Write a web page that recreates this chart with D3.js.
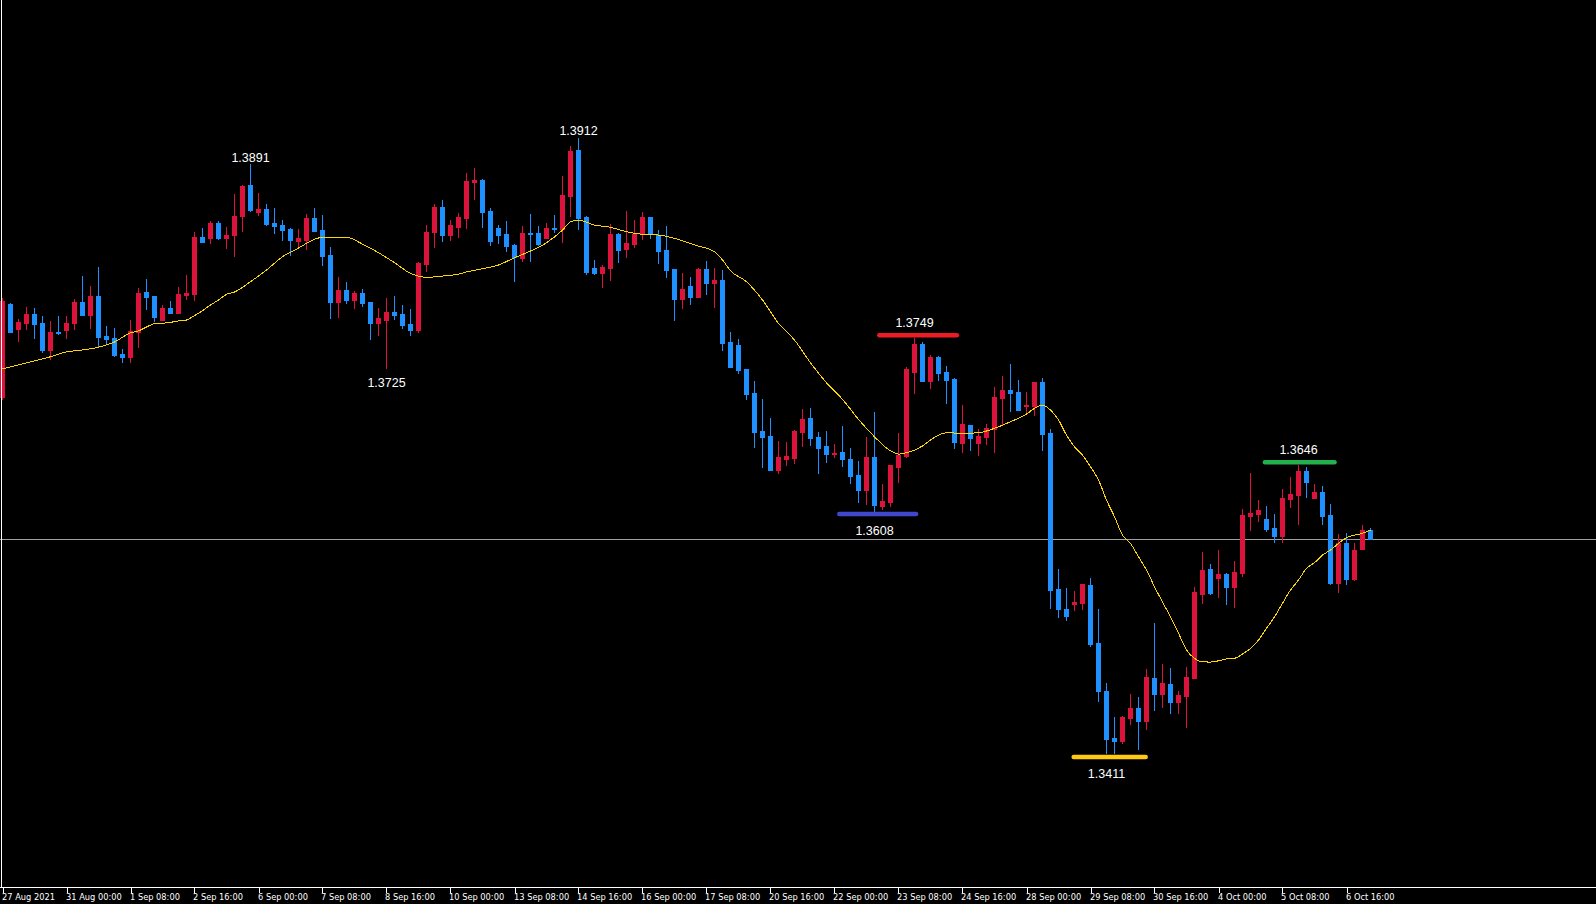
<!DOCTYPE html>
<html><head><meta charset="utf-8">
<script src="https://cdn.jsdelivr.net/npm/d3@7"></script>
<style>html,body{margin:0;padding:0;background:#000;overflow:hidden}svg{display:block}</style>
</head><body>
<script>
// ---- time axis labels (one every 8 bars) ----
const timeLabels = ["27 Aug 2021","31 Aug 00:00","1 Sep 08:00","2 Sep 16:00","6 Sep 00:00","7 Sep 08:00","8 Sep 16:00","10 Sep 00:00","13 Sep 08:00","14 Sep 16:00","16 Sep 00:00","17 Sep 08:00","20 Sep 16:00","22 Sep 00:00","23 Sep 08:00","24 Sep 16:00","28 Sep 00:00","29 Sep 08:00","30 Sep 16:00","4 Oct 00:00","5 Oct 08:00","6 Oct 16:00"];
const barsPerLabel = 8;

// ---- H4 OHLC series ----
const open = [
1.37011,1.37768,1.37565,1.37616,1.37687,1.37614,1.37394,1.37541,1.37557,1.37614,
1.37785,1.37679,1.37833,1.37508,1.37492,1.37361,1.37337,1.37541,1.37866,1.37833,
1.37638,1.37736,1.37696,1.37841,1.37849,1.38314,1.38306,1.38428,1.38306,1.38330,
1.38485,1.38737,1.38518,1.38542,1.38428,1.38411,1.38379,1.38281,1.38289,1.38469,
1.38371,1.38167,1.37785,1.37882,1.37801,1.37858,1.37785,1.37614,1.37638,1.37704,
1.37687,1.37605,1.37557,1.38094,1.38355,1.38558,1.38330,1.38395,1.38469,1.38762,
1.38778,1.38526,1.38387,1.38338,1.38248,1.38143,1.38347,1.38347,1.38306,1.38387,
1.38379,1.38648,1.39022,1.38477,1.38062,1.38021,1.38062,1.38338,1.38216,1.38256,
1.38347,1.38477,1.38330,1.38208,1.38054,1.37809,1.37915,1.37825,1.38054,1.37940,
1.37964,1.37459,1.37434,1.37239,1.37044,1.36734,1.36693,1.36416,1.36506,1.36514,
1.36726,1.36840,1.36685,1.36612,1.36546,1.36563,1.36506,1.36375,1.36254,1.36522,
1.36123,1.36156,1.36441,1.36530,1.37215,1.37442,1.37141,1.37337,1.37215,1.37158,
1.36637,1.36783,1.36637,1.36685,1.36751,1.37003,1.37068,1.37052,1.36938,1.36938,
1.37133,1.36718,1.35448,1.35285,1.35325,1.35334,1.35480,1.35008,1.34617,1.34234,
1.34210,1.34397,1.34479,1.34373,1.34723,1.34592,1.34673,1.34528,1.34576,1.34723,
1.35406,1.35611,1.35537,1.35569,1.35464,1.35578,1.36042,1.36058,1.36018,1.35944,
1.35879,1.36181,1.36213,1.36408,1.36189,1.36238,1.36050,1.35497,1.35822,1.35529,
1.35773,1.35928];
const high = [
1.37817,1.37777,1.37644,1.37744,1.37736,1.37671,1.37630,1.37671,1.37671,1.37809,
1.37996,1.37915,1.38070,1.37589,1.37573,1.37402,1.37638,1.37899,1.37972,1.37833,
1.37760,1.37793,1.37907,1.38004,1.38355,1.38387,1.38444,1.38444,1.38395,1.38664,
1.38737,1.38906,1.38673,1.38582,1.38550,1.38452,1.38387,1.38379,1.38501,1.38550,
1.38493,1.38232,1.37988,1.37948,1.37874,1.37891,1.37785,1.37736,1.37817,1.37833,
1.37760,1.37728,1.38111,1.38411,1.38582,1.38615,1.38452,1.38510,1.38836,1.38876,
1.38787,1.38550,1.38411,1.38444,1.38256,1.38403,1.38501,1.38403,1.38428,1.38493,
1.38811,1.39055,1.39120,1.38485,1.38127,1.38086,1.38419,1.38347,1.38526,1.38452,
1.38518,1.38477,1.38371,1.38403,1.38054,1.38021,1.37988,1.38062,1.38119,1.38062,
1.38045,1.37541,1.37484,1.37239,1.37141,1.36995,1.36840,1.36653,1.36645,1.36742,
1.36914,1.36922,1.36726,1.36734,1.36628,1.36775,1.36596,1.36490,1.36685,1.36889,
1.36302,1.36457,1.36718,1.37255,1.37494,1.37459,1.37353,1.37345,1.37263,1.37166,
1.36946,1.36783,1.36751,1.36791,1.37092,1.37182,1.37279,1.37149,1.37052,1.37133,
1.37166,1.36751,1.35611,1.35456,1.35431,1.35488,1.35537,1.35285,1.34682,1.34405,
1.34413,1.34592,1.34568,1.34796,1.35171,1.34836,1.34804,1.34617,1.34812,1.35464,
1.35749,1.35651,1.35765,1.35578,1.35676,1.36099,1.36392,1.36172,1.36123,1.36058,
1.36262,1.36359,1.36460,1.36441,1.36302,1.36286,1.36139,1.35895,1.35904,1.35822,
1.35968,1.35944];
const low = [
1.36995,1.37541,1.37469,1.37565,1.37492,1.37380,1.37323,1.37527,1.37489,1.37565,
1.37679,1.37575,1.37418,1.37451,1.37348,1.37296,1.37296,1.37418,1.37728,1.37630,
1.37638,1.37696,1.37696,1.37809,1.37801,1.38273,1.38265,1.38298,1.38224,1.38159,
1.38363,1.38526,1.38493,1.38411,1.38347,1.38289,1.38167,1.38224,1.38216,1.38363,
1.38086,1.37655,1.37663,1.37777,1.37736,1.37752,1.37484,1.37516,1.37249,1.37647,
1.37573,1.37516,1.37541,1.38037,1.38232,1.38281,1.38289,1.38314,1.38387,1.38624,
1.38395,1.38248,1.38265,1.38200,1.37956,1.38119,1.38119,1.38248,1.38306,1.38355,
1.38273,1.38485,1.38379,1.38012,1.38012,1.37907,1.37964,1.38111,1.38151,1.38232,
1.38298,1.38306,1.38103,1.37988,1.37638,1.37736,1.37768,1.37825,1.37849,1.37744,
1.37394,1.37255,1.37207,1.36995,1.36604,1.36441,1.36416,1.36392,1.36457,1.36474,
1.36612,1.36620,1.36392,1.36482,1.36522,1.36449,1.36311,1.36156,1.36139,1.36077,
1.36099,1.36123,1.36319,1.36522,1.37044,1.37141,1.37084,1.37149,1.36963,1.36596,
1.36563,1.36579,1.36538,1.36628,1.36563,1.36791,1.36897,1.36905,1.36881,1.36864,
1.36579,1.35293,1.35219,1.35195,1.35276,1.35285,1.34983,1.34536,1.34110,1.34112,
1.34194,1.34348,1.34145,1.34308,1.34462,1.34487,1.34438,1.34438,1.34324,1.34723,
1.35334,1.35406,1.35382,1.35325,1.35301,1.35553,1.35928,1.36001,1.35920,1.35830,
1.35830,1.36115,1.35976,1.36197,1.36189,1.35976,1.35488,1.35423,1.35488,1.35521,
1.35773,1.35854];
const close = [
1.37793,1.37543,1.37622,1.37687,1.37605,1.37394,1.37541,1.37530,1.37614,1.37785,
1.37679,1.37833,1.37500,1.37484,1.37353,1.37337,1.37549,1.37858,1.37825,1.37663,
1.37736,1.37696,1.37849,1.37858,1.38314,1.38273,1.38428,1.38306,1.38330,1.38485,
1.38729,1.38534,1.38542,1.38419,1.38403,1.38371,1.38289,1.38306,1.38469,1.38363,
1.38159,1.37785,1.37882,1.37801,1.37858,1.37777,1.37614,1.37655,1.37704,1.37679,
1.37597,1.37557,1.38103,1.38355,1.38558,1.38330,1.38411,1.38477,1.38770,1.38778,
1.38518,1.38281,1.38330,1.38240,1.38151,1.38347,1.38338,1.38256,1.38387,1.38379,
1.38656,1.39014,1.38469,1.38029,1.38021,1.38070,1.38338,1.38208,1.38265,1.38338,
1.38477,1.38338,1.38200,1.38045,1.37809,1.37891,1.37825,1.38054,1.37940,1.37964,
1.37451,1.37255,1.37231,1.37035,1.36726,1.36685,1.36416,1.36522,1.36530,1.36734,
1.36832,1.36677,1.36596,1.36546,1.36555,1.36506,1.36367,1.36254,1.36522,1.36131,
1.36164,1.36457,1.36538,1.37239,1.37442,1.37141,1.37337,1.37207,1.37149,1.36645,
1.36791,1.36677,1.36693,1.36759,1.37011,1.37068,1.37044,1.36905,1.36946,1.37133,
1.36709,1.35439,1.35285,1.35227,1.35342,1.35488,1.34999,1.34617,1.34226,1.34210,
1.34405,1.34479,1.34373,1.34731,1.34592,1.34682,1.34528,1.34584,1.34731,1.35423,
1.35602,1.35415,1.35569,1.35464,1.35586,1.36050,1.36067,1.36091,1.35936,1.35879,
1.36189,1.36221,1.36408,1.36319,1.36238,1.36042,1.35497,1.35822,1.35529,1.35765,
1.35928,1.35854];

// ---- moving average, read at these bars ----
const maBar = [0,4,6,8,10,12,14,16,17,18,19,20,21,22,23,24,25,26,27,28,29,31,33,35,37,39,40,43,45,47,49,51,52,53,55,57,58,60,62,64,66,68,70,71,72,74,76,78,80,82,84,86,87,89,90,91,93,95,97,99,101,103,105,107,109,111,112,113,115,116,118,120,122,124,126,128,129,130,131,132,133,134,135,136,137,138,139,140,141,142,143,144,145,146,147,148,149,150,151,152,153,154,155,156,157,158,159,160,161,162,163,164,165,166,167,168,169,170,171];
const maValue = [1.37239,1.37306,1.37339,1.37378,1.37394,1.37416,1.37459,1.37533,
1.37549,1.37581,1.37608,1.37611,1.37619,1.37630,1.37638,1.37674,1.37714,1.37760,1.37801,1.37847,
1.37866,1.37950,1.38045,1.38153,1.38224,1.38295,1.38312,1.38312,1.38256,1.38186,1.38105,1.38018,1.37996,1.37985,1.37996,1.38012,1.38029,
1.38056,1.38086,1.38145,1.38200,1.38267,1.38371,1.38438,1.38452,1.38411,1.38393,1.38357,1.38336,1.38330,1.38303,1.38262,1.38240,
1.38194,1.38127,1.38039,1.37950,1.37801,1.37611,1.37475,1.37290,1.37127,1.36992,1.36829,1.36687,1.36573,1.36546,1.36557,1.36612,1.36661,
1.36720,1.36715,1.36720,1.36756,1.36810,1.36872,1.36919,1.36944,
1.36905,1.36824,1.36701,1.36606,1.36538,1.36443,1.36335,1.36172,1.36036,1.35887,1.35819,1.35710,1.35602,1.35466,1.35342,1.35221,1.35087,1.34951,1.34883,1.34855,1.34853,1.34863,1.34878,1.34883,1.34918,1.34964,1.35032,1.35127,1.35221,1.35331,1.35439,1.35521,1.35616,1.35662,1.35724,1.35765,1.35819,1.35865,1.35887,1.35901,1.35928];

// ---- price annotations ----
const noteText  = ["1.3891","1.3912","1.3725","1.3749","1.3608","1.3411","1.3646"];
const noteBar   = [31,72,48,114,109,138,162];
const noteDy    = [-2,-3.5,19.5,-11,23.5,25,-11];   // baseline offset from level, px
const markLevel = [1.37513,1.36058,1.34079,1.36479];
const markFrom  = [109.6,104.6,133.9,157.8];
const markTo    = [119.3,114.2,142.9,166.5];
const markColor = ["#ED1C24","#3F48CC","#FFC90E","#22B14C"];

const W = 1596, H = 904, axisY = 887;
const n = Math.min(open.length, high.length, low.length, close.length);
const BULL = "#DC143C", BEAR = "#1E90FF";

const svg = d3.select("body").append("svg").attr("width", W).attr("height", H)
  .style("background", "#000");

const x = d3.scaleLinear().domain([0, n - 1]).range([2.5, 2.5 + 8 * (n - 1)]);
const y = d3.scaleLinear().domain([1.3912, 1.3411]).range([138, 753.3]);
const ry = v => Math.round(y(v));

// bid line
svg.append("line").attr("x1", 0).attr("x2", W)
  .attr("y1", ry(close[n - 1]) + 0.5).attr("y2", ry(close[n - 1]) + 0.5)
  .attr("stroke", "#a0a0a0").attr("stroke-width", 1);

// candles
const idx = d3.range(n);
const g = svg.append("g").attr("shape-rendering", "crispEdges");
g.selectAll("rect.wick").data(idx).join("rect").attr("class", "wick")
  .attr("x", i => Math.round(x(i) - 0.5)).attr("width", 1)
  .attr("y", i => ry(high[i])).attr("height", i => Math.max(1, ry(low[i]) - ry(high[i]) + 1))
  .attr("fill", i => close[i] >= open[i] ? BULL : BEAR);
g.selectAll("rect.body").data(idx).join("rect").attr("class", "body")
  .attr("x", i => Math.round(x(i) - 2.5)).attr("width", 5)
  .attr("y", i => ry(Math.max(open[i], close[i])))
  .attr("height", i => Math.max(1, ry(Math.min(open[i], close[i])) - ry(Math.max(open[i], close[i])) + 1))
  .attr("fill", i => close[i] >= open[i] ? BULL : BEAR);

// moving average
const maPts = d3.range(Math.min(maBar.length, maValue.length)).map(j => [maBar[j], maValue[j]]);
svg.append("path").datum(maPts)
  .attr("d", d3.line().x(d => x(d[0])).y(d => y(d[1])).curve(d3.curveMonotoneX))
  .attr("fill", "none").attr("stroke", "#FFD700").attr("stroke-width", 1)
  .attr("shape-rendering", "crispEdges");

// marker lines
markLevel.forEach((lv, j) => {
  svg.append("line").attr("x1", x(markFrom[j])).attr("x2", x(markTo[j]))
    .attr("y1", y(lv)).attr("y2", y(lv))
    .attr("stroke", markColor[j]).attr("stroke-width", 4.5).attr("stroke-linecap", "round");
});

// price labels
noteText.forEach((t, j) => {
  svg.append("text").attr("x", x(noteBar[j])).attr("y", y(+t) + noteDy[j])
    .attr("text-anchor", "middle").attr("fill", "#fff")
    .attr("font-family", "'Liberation Sans', Arial, sans-serif").attr("font-size", 12.5)
    .text(t);
});

// axes frame
svg.append("line").attr("x1", 1.5).attr("x2", 1.5).attr("y1", 0).attr("y2", axisY)
  .attr("stroke", "#fff").attr("stroke-width", 1);
svg.append("line").attr("x1", 0).attr("x2", W).attr("y1", axisY + 0.5).attr("y2", axisY + 0.5)
  .attr("stroke", "#fff").attr("stroke-width", 1);

// time ticks + labels
const tickBars = timeLabels.map((_, j) => j * barsPerLabel);
svg.selectAll("line.tick").data(tickBars).join("line").attr("class", "tick")
  .attr("x1", b => Math.round(x(b)) + 0.5).attr("x2", b => Math.round(x(b)) + 0.5)
  .attr("y1", axisY + 1).attr("y2", axisY + 6).attr("stroke", "#fff");
svg.selectAll("text.tl").data(tickBars).join("text").attr("class", "tl")
  .attr("x", b => Math.round(x(b)) - 1).attr("y", 900)
  .attr("fill", "#fff").attr("font-size", 9.2)
  .attr("font-family", "'Liberation Sans Narrow', 'DejaVu Sans Condensed', 'Liberation Sans', sans-serif")
  .text((b, j) => timeLabels[j]);
</script>
</body></html>
